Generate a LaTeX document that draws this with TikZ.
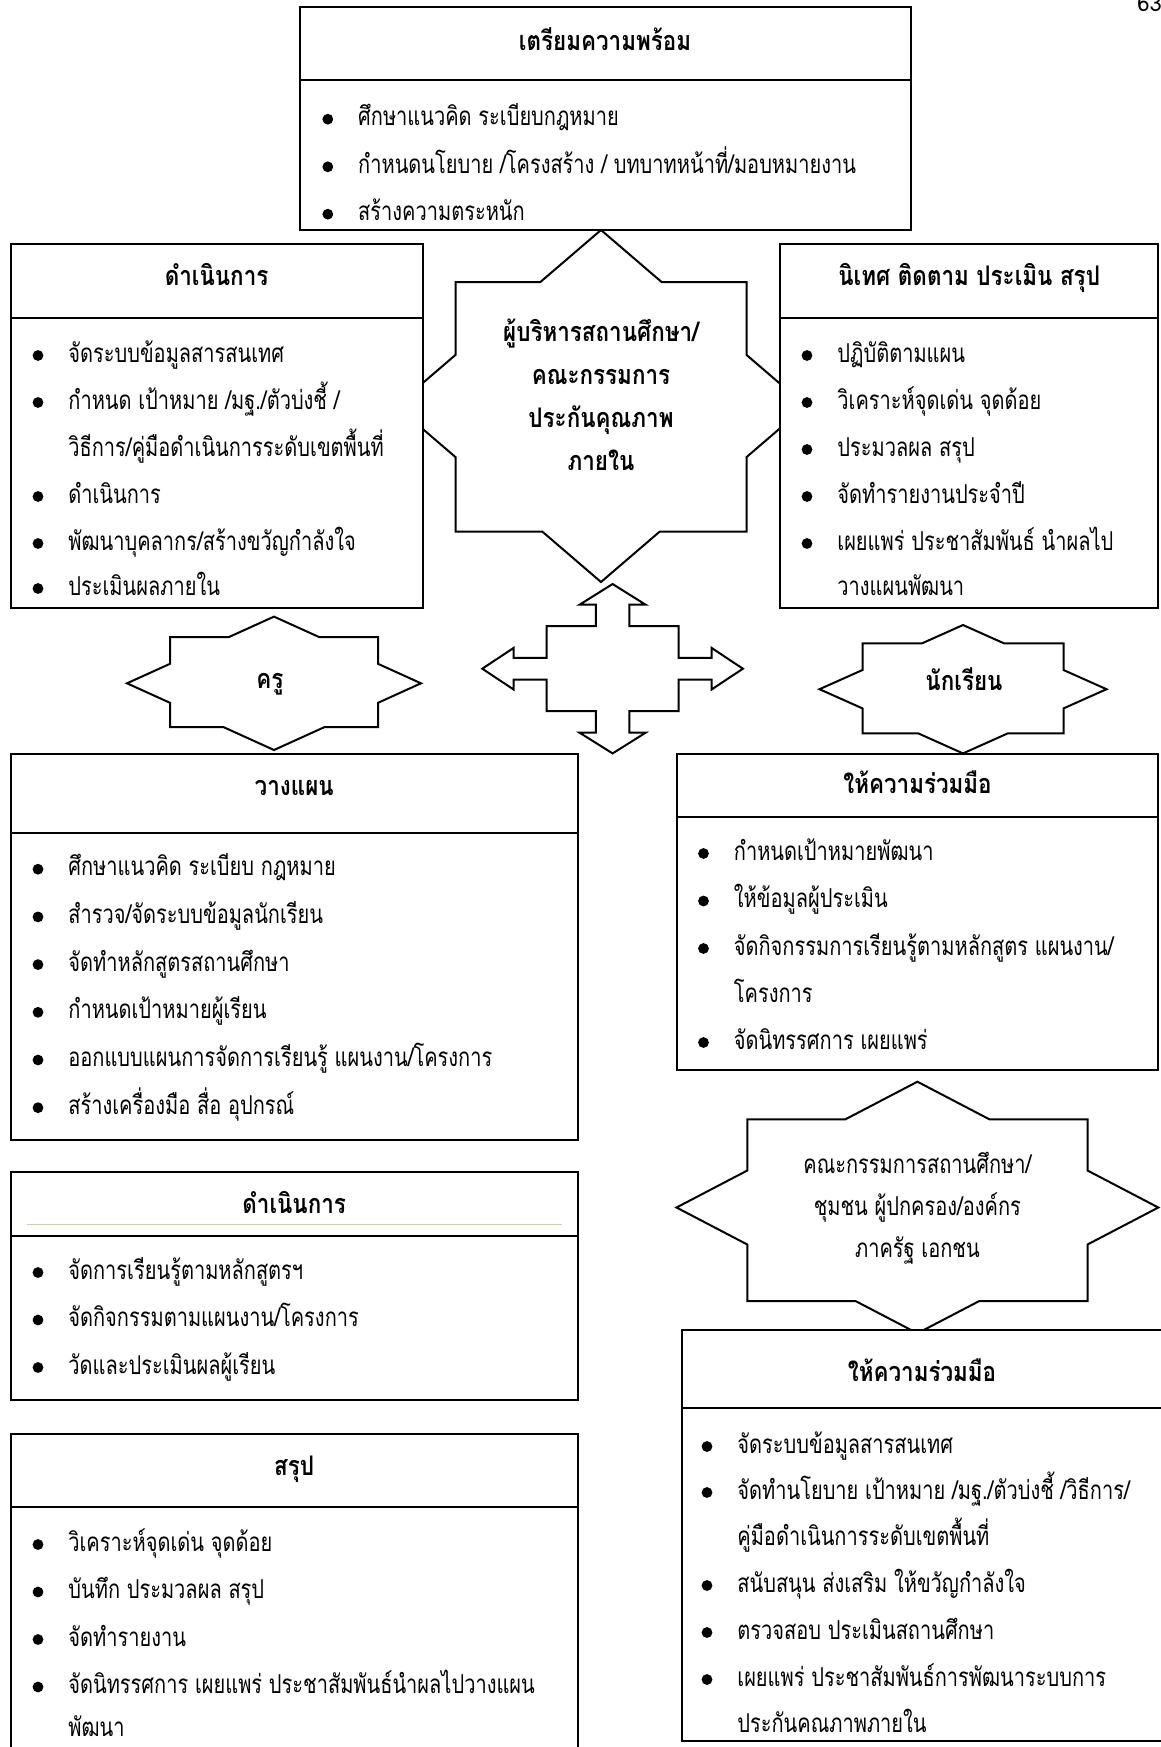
\documentclass[tikz,border=0pt]{standalone}
\usepackage{fontspec}
\newfontfamily\thaibody[Script=Thai, FakeStretch=0.77]{Loma}
\newfontfamily\thaihead[Script=Thai, FakeStretch=0.83]{Loma}
\newfontfamily\thai[Script=Thai]{Loma}
\usetikzlibrary{fit}
\definecolor{olivelight}{RGB}{195,214,155}
\tikzset{
  panel/.style={draw=black, line width=1pt, fill=white, inner sep=0pt, outer sep=0pt},
  divider/.style={draw=black, line width=1pt},
  starshape/.style={draw=black, line width=1pt, fill=white, line join=miter},
  dot/.style={circle, fill=black, inner sep=0pt, minimum size=5.4pt, yshift=-1.25pt},
  itemtext/.style={anchor=base west, inner sep=0pt, font=\thaibody\fontsize{13}{15}\selectfont},
  headtext/.style={anchor=base, inner sep=0pt, yshift=-2pt, font=\thaihead\bfseries\fontsize{13.5}{16}\selectfont},
  plaintext/.style={anchor=base, inner sep=0pt, font=\thaibody\fontsize{13}{15}\selectfont},
}
% bullet item: name, x, y (middle of the text line), text
\newcommand\bitem[4]{%
  \node[dot] (#1b) at (#2,#3) {};
  \node[itemtext, xshift=15pt, yshift=-4.5pt] (#1) at (#2,#3) {#4};}
% continuation line of an item, same indent, no bullet
\newcommand\contline[4]{%
  \node[itemtext, xshift=15pt, yshift=-4.5pt] (#1) at (#2,#3) {#4};}
\begin{document}
\begin{tikzpicture}[x=0.5pt, y=-0.5pt]
\useasboundingbox (0,0) rectangle (1161,1747);
\fill[white] (0,0) rectangle (1161,1747);

% page number, partly cut by the top edge
\node[anchor=base west, inner sep=0pt, font=\thai\fontsize{11}{12}\selectfont] (pgnum) at (1137,11) {63};

% ---------- stars (drawn first, boxes overlap their side points) ----------
% central star
\draw[starshape] (601,230) -- (661.6,282) -- (746.5,282) -- (746.5,354.9) -- (806,406)
  -- (746.5,457.1) -- (746.5,531.5) -- (659.8,531.5) -- (601,582) -- (542.2,531.5)
  -- (455.5,531.5) -- (455.5,457.1) -- (396,406) -- (455.5,354.9) -- (455.5,282)
  -- (540.4,282) -- cycle;
\node[headtext] (adm1) at (601,337.5) {ผู้บริหารสถานศึกษา/};
\node[headtext] (adm2) at (601,380.5) {คณะกรรมการ};
\node[headtext] (adm3) at (601,423.5) {ประกันคุณภาพ};
\node[headtext] (adm4) at (601,466.5) {ภายใน};

% teacher star
\draw[starshape] (274,616.6) -- (319,637) -- (378,637) -- (378,663.8) -- (421,683.3)
  -- (378,702.8) -- (378,727) -- (324.7,727) -- (274,750) -- (223.3,727)
  -- (170,727) -- (170,702.8) -- (127,683.3) -- (170,663.8) -- (170,637)
  -- (229,637) -- cycle;
\node[headtext] (teacher) at (270,684) {ครู};

% student star
\draw[starshape] (963,625) -- (1003.9,643.3) -- (1063.5,643.3) -- (1063.5,670) -- (1106.5,689.2)
  -- (1063.5,708.4) -- (1063.5,733.3) -- (1007.9,733.3) -- (963,753.4) -- (918.1,733.3)
  -- (862.5,733.3) -- (862.5,708.4) -- (819.5,689.2) -- (862.5,670) -- (862.5,643.3)
  -- (922.1,643.3) -- cycle;
\node[headtext] (student) at (964,686.5) {นักเรียน};

% community star
\draw[starshape] (917.4,1081.7) -- (989.4,1119.3) -- (1087.5,1119.3) -- (1087.5,1170.5) -- (1158.3,1207.5)
  -- (1087.5,1244.5) -- (1087.5,1301) -- (979.3,1301) -- (917.4,1333.3) -- (855.5,1301)
  -- (747.3,1301) -- (747.3,1244.5) -- (676.5,1207.5) -- (747.3,1170.5) -- (747.3,1119.3)
  -- (845.4,1119.3) -- cycle;
\node[plaintext] (comm1) at (917.4,1173) {คณะกรรมการสถานศึกษา/};
\node[plaintext] (comm2) at (917.4,1215) {ชุมชน ผู้ปกครอง/องค์กร};
\node[plaintext] (comm3) at (917.4,1257) {ภาครัฐ เอกชน};

% four-way arrow with a central block
\draw[starshape] (612.6,584) -- (645.6,604.7) -- (629.3,604.7) -- (629.3,626.2) -- (678.6,626.2)
  -- (678.6,657.85) -- (711.5,657.85) -- (711.5,647.85) -- (742.9,668.7) -- (711.5,689.55)
  -- (711.5,679.55) -- (678.6,679.55) -- (678.6,711.2) -- (629.3,711.2) -- (629.3,732.7)
  -- (645.6,732.7) -- (612.6,753.4) -- (579.6,732.7) -- (595.9,732.7) -- (595.9,711.2)
  -- (546.6,711.2) -- (546.6,679.55) -- (513.7,679.55) -- (513.7,689.55) -- (482.3,668.7)
  -- (513.7,647.85) -- (513.7,657.85) -- (546.6,657.85) -- (546.6,626.2) -- (595.9,626.2)
  -- (595.9,604.7) -- (579.6,604.7) -- cycle;

% ---------- preparation ----------
\node[panel, fit={(299.7,7.3) (910.6,230)}] (prep) {};
\draw[divider] (prep.west |- 0,80.3) -- (prep.east |- 0,80.3);
\node[headtext] (prepT) at (605,46.5) {เตรียมความพร้อม};
\bitem{prepA}{327.8}{116.7}{ศึกษาแนวคิด ระเบียบกฎหมาย}
\bitem{prepB}{327.8}{164.3}{กำหนดนโยบาย /โครงสร้าง / บทบาทหน้าที่/มอบหมายงาน}
\bitem{prepC}{327.8}{211.7}{สร้างความตระหนัก}

% ---------- operation (administration) ----------
\node[panel, fit={(10.7,244) (422.5,608.3)}] (oper) {};
\draw[divider] (oper.west |- 0,317.7) -- (oper.east |- 0,317.7);
\node[headtext] (operT) at (216.6,281.5) {ดำเนินการ};
\bitem{operA}{38}{353}{จัดระบบข้อมูลสารสนเทศ}
\bitem{operB}{38}{400}{กำหนด เป้าหมาย /มฐ./ตัวบ่งชี้ /}
\contline{operBc}{38}{447}{วิธีการ/คู่มือดำเนินการระดับเขตพื้นที่}
\bitem{operC}{38}{494}{ดำเนินการ}
\bitem{operD}{38}{541}{พัฒนาบุคลากร/สร้างขวัญกำลังใจ}
\bitem{operE}{38}{586}{ประเมินผลภายใน}

% ---------- supervision ----------
\node[panel, fit={(780.4,244) (1158,608.3)}] (superv) {};
\draw[divider] (superv.west |- 0,317.7) -- (superv.east |- 0,317.7);
\node[headtext] (supervT) at (969.2,281.5) {นิเทศ ติดตาม ประเมิน สรุป};
\bitem{supA}{807}{353}{ปฏิบัติตามแผน}
\bitem{supB}{807}{400}{วิเคราะห์จุดเด่น จุดด้อย}
\bitem{supC}{807}{447}{ประมวลผล สรุป}
\bitem{supD}{807}{494}{จัดทำรายงานประจำปี}
\bitem{supE}{807}{541}{เผยแพร่ ประชาสัมพันธ์ นำผลไป}
\contline{supEc}{807}{586}{วางแผนพัฒนา}

% ---------- planning ----------
\node[panel, fit={(10.7,754) (577.6,1140)}] (plan) {};
\draw[divider] (plan.west |- 0,833.3) -- (plan.east |- 0,833.3);
\node[headtext] (planT) at (294.2,791.5) {วางแผน};
\bitem{planA}{38}{866.7}{ศึกษาแนวคิด ระเบียบ กฎหมาย}
\bitem{planB}{38}{914.4}{สำรวจ/จัดระบบข้อมูลนักเรียน}
\bitem{planC}{38}{962.1}{จัดทำหลักสูตรสถานศึกษา}
\bitem{planD}{38}{1009.8}{กำหนดเป้าหมายผู้เรียน}
\bitem{planE}{38}{1057.5}{ออกแบบแผนการจัดการเรียนรู้ แผนงาน/โครงการ}
\bitem{planF}{38}{1105.2}{สร้างเครื่องมือ สื่อ อุปกรณ์}

% ---------- student cooperation ----------
\node[panel, fit={(676.7,754) (1158.3,1069.7)}] (coopS) {};
\draw[divider] (coopS.west |- 0,816.7) -- (coopS.east |- 0,816.7);
\node[headtext] (coopST) at (917.5,789.8) {ให้ความร่วมมือ};
\bitem{cstA}{703.5}{851}{กำหนดเป้าหมายพัฒนา}
\bitem{cstB}{703.5}{898.5}{ให้ข้อมูลผู้ประเมิน}
\bitem{cstC}{703.5}{946}{จัดกิจกรรมการเรียนรู้ตามหลักสูตร แผนงาน/}
\contline{cstCc}{703.5}{993}{โครงการ}
\bitem{cstD}{703.5}{1040}{จัดนิทรรศการ เผยแพร่}

% ---------- teaching operation ----------
\node[panel, fit={(10.7,1172) (577.6,1400)}] (teach) {};
\draw[olivelight, line width=0.5pt] (26.8,1224.5) -- (561.8,1224.5);
\draw[divider] (teach.west |- 0,1235.5) -- (teach.east |- 0,1235.5);
\node[headtext] (teachT) at (294.2,1209.5) {ดำเนินการ};
\bitem{tchA}{38}{1270}{จัดการเรียนรู้ตามหลักสูตรฯ}
\bitem{tchB}{38}{1317.5}{จัดกิจกรรมตามแผนงาน/โครงการ}
\bitem{tchC}{38}{1365}{วัดและประเมินผลผู้เรียน}

% ---------- summary ----------
\node[panel, fit={(10.7,1434.3) (577.6,1752)}] (summ) {};
\draw[divider] (summ.west |- 0,1506.8) -- (summ.east |- 0,1506.8);
\node[headtext] (summT) at (294.2,1471) {สรุป};
\bitem{sumA}{38}{1542}{วิเคราะห์จุดเด่น จุดด้อย}
\bitem{sumB}{38}{1589.5}{บันทึก ประมวลผล สรุป}
\bitem{sumC}{38}{1637}{จัดทำรายงาน}
\bitem{sumD}{38}{1684.5}{จัดนิทรรศการ เผยแพร่ ประชาสัมพันธ์นำผลไปวางแผน}
\contline{sumDc}{38}{1727}{พัฒนา}

% ---------- community cooperation ----------
\node[panel, fit={(681.7,1330) (1163,1741)}] (coopC) {};
\draw[divider] (coopC.west |- 0,1408) -- (coopC.east |- 0,1408);
\node[headtext] (coopCT) at (922,1377) {ให้ความร่วมมือ};
\bitem{ccA}{707}{1444}{จัดระบบข้อมูลสารสนเทศ}
\bitem{ccB}{707}{1490}{จัดทำนโยบาย เป้าหมาย /มฐ./ตัวบ่งชี้ /วิธีการ/}
\contline{ccBc}{707}{1536}{คู่มือดำเนินการระดับเขตพื้นที่}
\bitem{ccC}{707}{1583}{สนับสนุน ส่งเสริม ให้ขวัญกำลังใจ}
\bitem{ccD}{707}{1630}{ตรวจสอบ ประเมินสถานศึกษา}
\bitem{ccE}{707}{1677}{เผยแพร่ ประชาสัมพันธ์การพัฒนาระบบการ}
\contline{ccEc}{707}{1723}{ประกันคณภาพภายใน}
\end{tikzpicture}
\end{document}
